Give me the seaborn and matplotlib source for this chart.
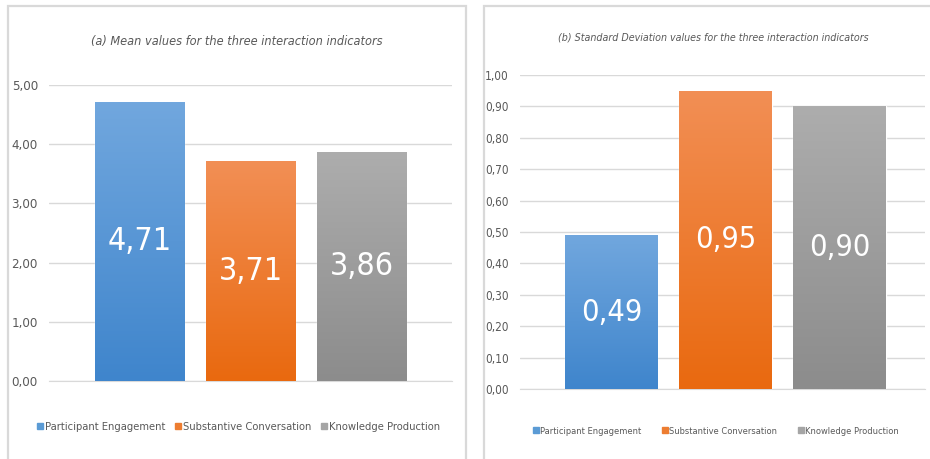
import numpy as np
import pandas as pd
import matplotlib
matplotlib.use("Agg")
import matplotlib.pyplot as plt
from matplotlib.colors import LinearSegmentedColormap
from matplotlib.font_manager import FontProperties
from matplotlib.lines import Line2D
from matplotlib.patches import Rectangle
from matplotlib.ticker import FuncFormatter, MultipleLocator
import seaborn as sns

categories = ["Participant Engagement", "Substantive Conversation", "Knowledge Production"]
mean_values = [4.71, 3.71, 3.86]
std_values = [0.49, 0.95, 0.90]
title_a = "(a) Mean values for the three interaction indicators"
title_b = "(b) Standard Deviation values for the three interaction indicators"

# top / bottom of each bar gradient
grad_colors = [("#71A7DE", "#3F85CC"), ("#F28F55", "#E9690F"), ("#ADADAD", "#8C8C8C")]
solid_colors = ["#5B9BD5", "#ED7D31", "#A5A5A5"]
text_grey = "#595959"
grid_grey = "#D9D9D9"

sns.set_style("white")
plt.rcParams["font.family"] = ["DejaVu Sans"]
plt.rcParams["font.stretch"] = "condensed"

fig = plt.figure(figsize=(9.3, 4.59), dpi=100)

# panel frames
for x0, x1 in [(8, 466), (484, 940)]:
    fig.patches.append(Rectangle((x0 / 930, -0.05), (x1 - x0) / 930, 1.05 - 6 / 459,
                                 transform=fig.transFigure, fill=False,
                                 edgecolor=grid_grey, linewidth=1.6))


def comma_fmt(v, pos):
    return f"{v:.2f}".replace(".", ",")


def draw_panel(ax, values, ymax, step, xlim, label_size):
    df = pd.DataFrame({"cat": categories, "val": values})
    sns.barplot(data=df, x="cat", y="val", hue="cat", palette=solid_colors,
                width=0.81, legend=False, ax=ax, zorder=2)
    for patch, (ctop, cbot) in zip(ax.patches, grad_colors):
        x, w, h = patch.get_x(), patch.get_width(), patch.get_height()
        cmap = LinearSegmentedColormap.from_list("g", [ctop, cbot])
        im = ax.imshow(np.linspace(0, 1, 256).reshape(-1, 1), extent=[x, x + w, 0, h],
                       aspect="auto", cmap=cmap, zorder=3)
        im.set_clip_path(patch)
        ax.text(x + w / 2, h / 2, f"{h:.2f}".replace(".", ","), ha="center", va="center",
                color="white", fontsize=label_size, zorder=4)
    ax.set_xlim(*xlim)
    ax.set_ylim(0, ymax)
    ax.yaxis.set_major_locator(MultipleLocator(step))
    ax.yaxis.set_major_formatter(FuncFormatter(comma_fmt))
    ax.grid(axis="y", color=grid_grey, linewidth=1, zorder=0)
    ax.set_axisbelow(True)
    ax.set_xticks([])
    ax.set_xlabel("")
    ax.set_ylabel("")
    for s in ["top", "right", "left"]:
        ax.spines[s].set_visible(False)
    ax.spines["bottom"].set_color(grid_grey)
    ax.tick_params(axis="y", length=0, labelsize=9.5, labelcolor=text_grey, pad=8)


ax1 = fig.add_axes([49 / 930, 78 / 459, 403 / 930, 296 / 459])
draw_panel(ax1, mean_values, 5, 1, (-0.815, 2.815), 23)

ax2 = fig.add_axes([520 / 930, 70 / 459, 405 / 930, 314 / 459])
draw_panel(ax2, std_values, 1, 0.1, (-0.80, 2.75), 22)
ax2.tick_params(axis="y", labelsize=8.5)

fig.text(237 / 930, 1 - 42 / 459, title_a, ha="center", va="center",
         fontsize=9.1, style="italic", color=text_grey)
fig.text(713 / 930, 1 - 37 / 459, title_b, ha="center", va="center",
         fontsize=7.7, style="italic", color=text_grey)

handles = [Line2D([], [], marker="s", linestyle="", markersize=5, color=c) for c in solid_colors]
fig.legend(handles, categories, loc="center", bbox_to_anchor=(238 / 930, 1 - 427 / 459),
           ncol=3, frameon=False, labelcolor=text_grey,
           prop=FontProperties(family="DejaVu Sans", stretch="condensed", size=8.0),
           handletextpad=0.1, columnspacing=0.8, handlelength=0.7)
fig.legend(handles, categories, loc="center", bbox_to_anchor=(716 / 930, 1 - 431 / 459),
           ncol=3, frameon=False, labelcolor=text_grey,
           prop=FontProperties(family="DejaVu Sans", stretch="condensed", size=6.7),
           handletextpad=0.1, columnspacing=2.2, handlelength=0.7)

fig.savefig("out.png", dpi=100)
